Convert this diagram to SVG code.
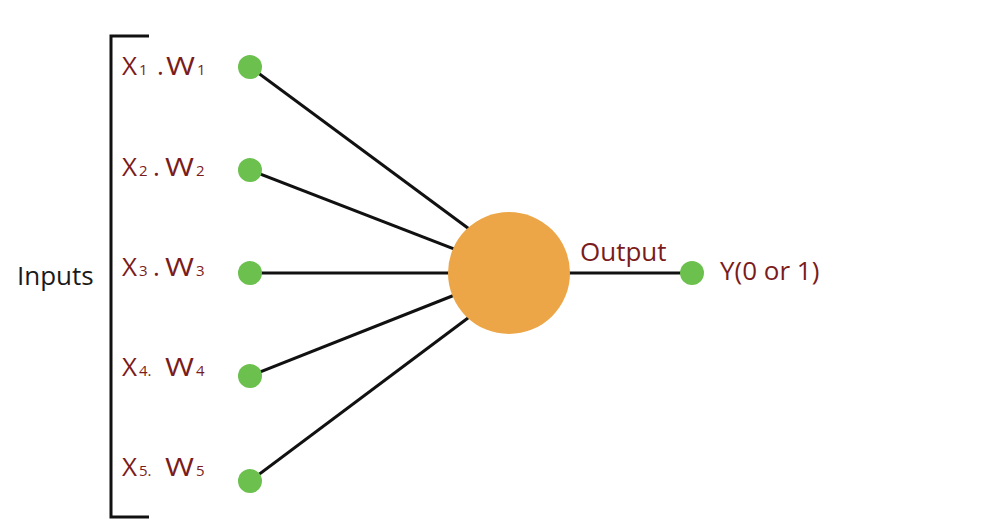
<svg xmlns="http://www.w3.org/2000/svg" width="1003" height="523" viewBox="0 0 1003 523">
<style>
.lbl{font-family:"Open Sans","Liberation Sans",sans-serif;font-size:26px;fill:#7a1c1c}
.sub{font-size:15px}
.blk{font-family:"Open Sans","Liberation Sans",sans-serif;font-size:26px;fill:#1a1a1a}
.edge{stroke:#111;stroke-width:3;fill:none}
.dot{fill:#6cc04e}
</style>
<rect width="1003" height="523" fill="#fff"/>
<g id="bracket">
<path d="M149,36 H111 V517 H149" fill="none" stroke="#111" stroke-width="3"/>
<text class="blk" x="17" y="285">Inputs</text>
</g>
<g id="connectors">
<line class="edge" x1="250" y1="67" x2="480" y2="237"/>
<line class="edge" x1="250" y1="170" x2="480" y2="259"/>
<line class="edge" x1="250" y1="273" x2="480" y2="273"/>
<line class="edge" x1="250" y1="376" x2="480" y2="285"/>
<line class="edge" x1="250" y1="481" x2="480" y2="309"/>
<line class="edge" x1="560" y1="273" x2="692" y2="273"/>
</g>
<g id="neuron"><circle cx="509" cy="273" r="61" fill="#eca647"/></g>
<g id="in1"><circle class="dot" cx="250" cy="67" r="12"/><text class="lbl" y="75"><tspan x="122">X</tspan><tspan class="sub" x="139">1</tspan><tspan x="157">.</tspan><tspan x="166" textLength="29" lengthAdjust="spacingAndGlyphs">W</tspan><tspan class="sub" x="197">1</tspan></text></g>
<g id="in2"><circle class="dot" cx="250" cy="170" r="12"/><text class="lbl" y="176"><tspan x="122">X</tspan><tspan class="sub" x="139">2</tspan><tspan x="153">.</tspan><tspan x="165" textLength="29" lengthAdjust="spacingAndGlyphs">W</tspan><tspan class="sub" x="196">2</tspan></text></g>
<g id="in3"><circle class="dot" cx="250" cy="273" r="12"/><text class="lbl" y="276"><tspan x="122">X</tspan><tspan class="sub" x="139">3</tspan><tspan x="153">.</tspan><tspan x="165" textLength="29" lengthAdjust="spacingAndGlyphs">W</tspan><tspan class="sub" x="196">3</tspan></text></g>
<g id="in4"><circle class="dot" cx="250" cy="376" r="12"/><text class="lbl" y="376"><tspan x="122">X</tspan><tspan class="sub" x="139">4.</tspan><tspan x="165" textLength="29" lengthAdjust="spacingAndGlyphs">W</tspan><tspan class="sub" x="196">4</tspan></text></g>
<g id="in5"><circle class="dot" cx="250" cy="481" r="12"/><text class="lbl" y="476"><tspan x="122">X</tspan><tspan class="sub" x="139">5.</tspan><tspan x="165" textLength="29" lengthAdjust="spacingAndGlyphs">W</tspan><tspan class="sub" x="196">5</tspan></text></g>
<g id="output"><circle class="dot" cx="692" cy="273" r="12"/><text class="lbl" x="580" y="261">Output</text><text class="lbl" x="720" y="280">Y(0 or 1)</text></g>
</svg>
